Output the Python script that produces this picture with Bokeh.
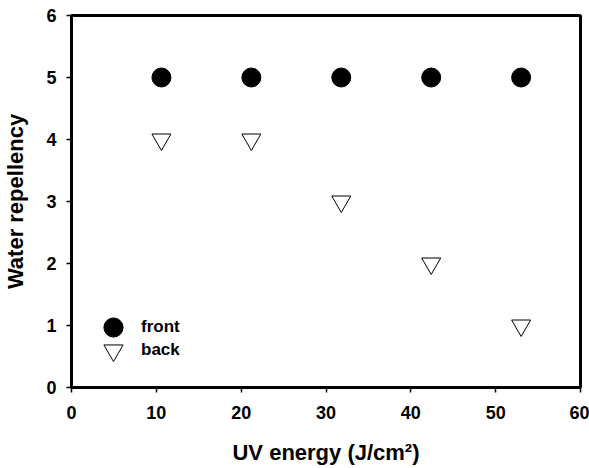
from bokeh.plotting import figure
from bokeh.models import FixedTicker, Range1d, Legend, LegendItem
from bokeh.embed import file_html
from bokeh.resources import INLINE

uv_energy = [10.6, 21.2, 31.8, 42.4, 53.0]
front = [5, 5, 5, 5, 5]
back = [4, 4, 3, 2, 1]
x_ticks = [0, 10, 20, 30, 40, 50, 60]
y_ticks = [0, 1, 2, 3, 4, 5, 6]

FONT = "Liberation Sans"

p = figure(width=589, height=468, output_backend="svg", toolbar_location=None,
           x_range=Range1d(0, 60), y_range=Range1d(0, 6),
           min_border_left=70, min_border_right=9, min_border_top=15, min_border_bottom=81)
p.background_fill_color = "white"
p.border_fill_color = "white"
p.outline_line_color = "black"
p.outline_line_width = 3
p.xgrid.grid_line_color = None
p.ygrid.grid_line_color = None

r_front = p.scatter(uv_energy, front, marker="circle", size=19,
                    fill_color="black", line_color="black", line_width=1)
r_back = p.scatter(uv_energy, back, marker="inverted_triangle", size=19,
                   fill_color="white", line_color="black", line_width=1)

for ax, ticks in ((p.xaxis, x_ticks), (p.yaxis, y_ticks)):
    ax.ticker = FixedTicker(ticks=ticks)
    ax.axis_line_width = 3
    ax.axis_line_color = "black"
    ax.major_tick_line_width = 1.5
    ax.major_tick_line_color = "black"
    ax.major_tick_out = 5
    ax.major_tick_in = 0
    ax.minor_tick_line_color = None
    ax.major_label_text_font = FONT
    ax.major_label_text_font_style = "bold"
    ax.major_label_text_font_size = "18px"
    ax.major_label_text_color = "black"
    ax.axis_label_text_font = FONT
    ax.axis_label_text_font_style = "bold"
    ax.axis_label_text_font_size = "22px"
    ax.axis_label_text_color = "black"

p.xaxis.axis_label = "UV energy (J/cm\u00b2)"
p.yaxis.axis_label = "Water repellency"
p.xaxis.major_label_standoff = 13
p.yaxis.major_label_standoff = 10
p.xaxis.axis_label_standoff = 18
p.yaxis.axis_label_standoff = 15

for label, rend, loc in (("front", r_front, (18, 36)), ("back", r_back, (18, 13))):
    lg = Legend(items=[LegendItem(label=label, renderers=[rend])], location=loc,
                glyph_width=48, glyph_height=48, padding=0, margin=0, spacing=0,
                label_standoff=4, label_text_font=FONT, label_text_font_style="bold",
                label_text_font_size="17px", label_text_color="black",
                background_fill_alpha=0, border_line_alpha=0)
    p.add_layout(lg, "center")

open("out.html", "w").write(file_html(p, INLINE))
